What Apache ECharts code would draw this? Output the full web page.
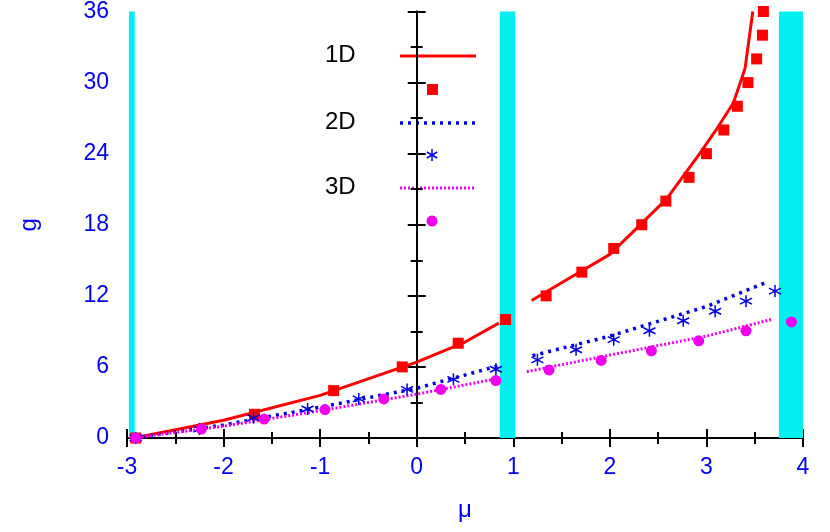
<!DOCTYPE html>
<html><head><meta charset="utf-8">
<script src="https://cdn.jsdelivr.net/npm/echarts@6/dist/echarts.min.js"></script>
<style>html,body{margin:0;padding:0;background:#fff}#c{width:830px;height:532px}</style>
</head><body><div id="c"></div>
<script>
const xTicks=[-3,-2,-1,0,1,2,3,4];
const yTicks=[0,6,12,18,24,30,36];
const line1D_a=[[-2.93,0],[-2,1.5],[-1,3.6],[0,6.4],[0.5,8.1],[0.85,9.7]];
const line1D_b=[[1.19,11.6],[1.5,13.1],[2,15.5],[2.24,17.4],[2.59,20.2],[2.93,24],[3.1,26],[3.28,28.3],[3.4,31.2],[3.48,36]];
const pts1D=[[-2.91,0],[-1.68,2],[-0.86,4],[-0.15,6],[0.43,8],[0.92,10],[1.34,12],[1.71,14],[2.04,16],[2.33,18],[2.58,20],[2.82,22],[3.0,24],[3.18,26],[3.32,28],[3.43,30],[3.52,32],[3.58,34],[3.59,36]];
const line2D_a=[[-2.93,0],[-2,1.1],[-1,2.6],[0,4.2],[0.85,6.1]];
const line2D_b=[[1.2,6.95],[2,8.6],[3,11.1],[3.64,13.2]];
const pts2D=[[-2.91,0],[-2.25,0.75],[-1.69,1.7],[-1.13,2.45],[-0.6,3.3],[-0.1,4.1],[0.38,4.95],[0.82,5.8],[1.25,6.6],[1.65,7.45],[2.04,8.3],[2.41,9.05],[2.76,9.9],[3.09,10.7],[3.41,11.55],[3.71,12.4]];
const line3D_a=[[-2.93,0],[-2,1.0],[-1,2.3],[0,3.7],[0.83,5.0]];
const line3D_b=[[1.14,5.6],[2,7.0],[3,8.6],[3.67,10.0]];
const pts3D=[[-2.91,0],[-2.23,0.75],[-1.58,1.6],[-0.95,2.4],[-0.34,3.3],[0.25,4.1],[0.82,4.85],[1.37,5.75],[1.91,6.55],[2.43,7.35],[2.92,8.2],[3.41,9.05],[3.88,9.8]];
const bands=[[-2.98,-2.92],[0.86,1.02],[3.75,4.0]];

const F='Liberation Sans, Arial, sans-serif';
const blue='#0000ee';
const chart=echarts.init(document.getElementById('c'));
const axLine={lineStyle:{color:'#000',width:2}};
const star='path://M0,-6L0,6M-5.2,-3L5.2,3M-5.2,3L5.2,-3';
function ln(d,color,type,w){return {type:'line',data:d,showSymbol:false,symbol:'none',lineStyle:{color:color,width:w,type:type},z:3,animation:false};}
function tick(){return {inside:true,length:9,lineStyle:{color:'#000',width:2}};}
function mtick(){return {show:true,splitNumber:2,length:6,lineStyle:{color:'#000',width:2}};}
chart.setOption({
 animation:false,
 grid:{left:127,right:27,top:8,bottom:94},
 xAxis:[{type:'value',min:-3,max:4,interval:1,axisLine:axLine,axisTick:tick(),minorTick:mtick(),
   axisLabel:{color:blue,fontSize:23,fontFamily:F,margin:18},splitLine:{show:false},
   name:'μ',nameLocation:'middle',nameGap:60,nameTextStyle:{color:blue,fontSize:24,fontFamily:F}},
  {type:'value',position:'top',min:-3,max:4,interval:1,axisLine:axLine,axisTick:tick(),minorTick:mtick(),
   axisLabel:{show:false},splitLine:{show:false}}],
 yAxis:[{type:'value',min:0,max:36,interval:6,axisLine:{show:true,lineStyle:{color:'#000',width:2}},
   axisTick:Object.assign({show:true},tick()),minorTick:mtick(),
   axisLabel:{color:blue,fontSize:23,fontFamily:F,margin:18},splitLine:{show:false},
   name:'g',nameLocation:'middle',nameGap:86,nameRotate:90,nameTextStyle:{color:blue,fontSize:24,fontFamily:F}},
  {type:'value',position:'right',min:0,max:36,interval:6,axisLine:{show:true,lineStyle:{color:'#000',width:2}},
   axisTick:Object.assign({show:true},tick()),minorTick:mtick(),
   axisLabel:{show:false},splitLine:{show:false}}],
 series:[
  {type:'line',data:[],markArea:{silent:true,itemStyle:{color:'#00f0f0',opacity:1},data:bands.map(b=>[{xAxis:b[0]},{xAxis:b[1]}])},z:1},
  ln(line1D_a,'#f00','solid',3),ln(line1D_b,'#f00','solid',3),
  ln(line2D_a,'#0000dd',[3,5],3.5),ln(line2D_b,'#0000dd',[3,5],3.5),
  ln(line3D_a,'#ee00ee',[2,2],3),ln(line3D_b,'#ee00ee',[2,2],3),
  {type:'scatter',data:pts1D,symbol:'rect',symbolSize:11,itemStyle:{color:'#f00',opacity:1},z:4},
  {type:'scatter',data:pts2D,symbol:star,symbolSize:12,itemStyle:{color:'rgba(0,0,0,0)',borderColor:'#0000dd',borderWidth:1.5,opacity:1},z:4},
  {type:'scatter',data:pts3D,symbol:'circle',symbolSize:11,itemStyle:{color:'#ee00ee',opacity:1},z:4}
 ],
 graphic:[
  {type:'text',x:325,y:43,style:{text:'1D',font:'24px '+F,fill:'#000'}},
  {type:'line',shape:{x1:400,y1:56,x2:476,y2:56},style:{stroke:'#f00',lineWidth:3}},
  {type:'rect',shape:{x:427,y:84,width:11,height:11},style:{fill:'#f00'}},
  {type:'text',x:325,y:110,style:{text:'2D',font:'24px '+F,fill:'#000'}},
  {type:'line',shape:{x1:400,y1:123,x2:476,y2:123},style:{stroke:'#0000dd',lineWidth:3.5,lineDash:[3,5]}},
  {type:'line',shape:{x1:432,y1:149,x2:432,y2:161},style:{stroke:'#0000dd',lineWidth:1.5}},
  {type:'line',shape:{x1:426.8,y1:152,x2:437.2,y2:158},style:{stroke:'#0000dd',lineWidth:1.5}},
  {type:'line',shape:{x1:426.8,y1:158,x2:437.2,y2:152},style:{stroke:'#0000dd',lineWidth:1.5}},
  {type:'text',x:325,y:175,style:{text:'3D',font:'24px '+F,fill:'#000'}},
  {type:'line',shape:{x1:400,y1:188,x2:476,y2:188},style:{stroke:'#ee00ee',lineWidth:3,lineDash:[2,2]}},
  {type:'circle',shape:{cx:432,cy:221,r:5.5},style:{fill:'#ee00ee'}}
 ]
});
</script></body></html>
